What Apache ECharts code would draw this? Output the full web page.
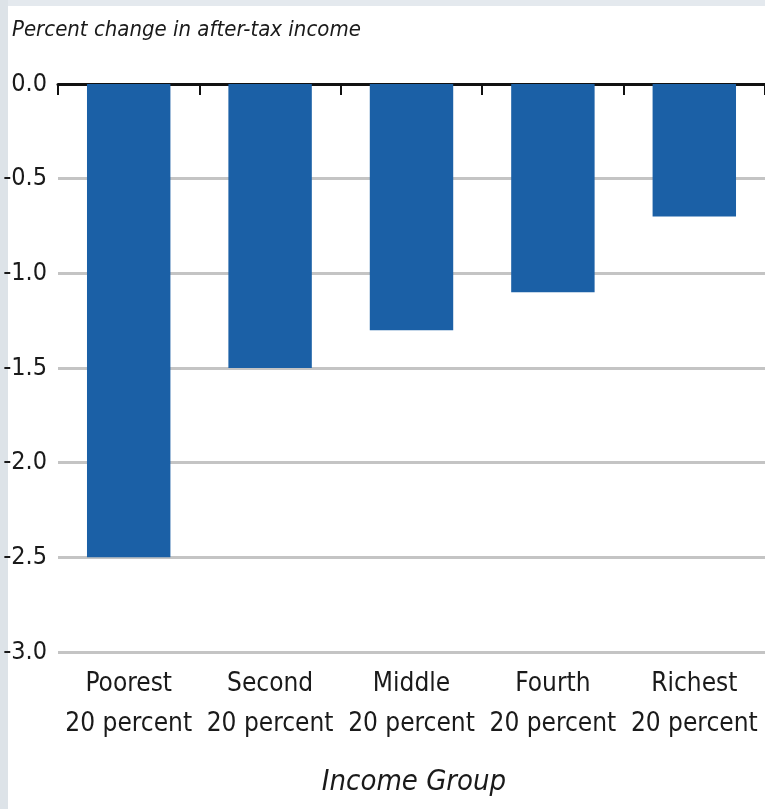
<!DOCTYPE html>
<html>
<head>
<meta charset="utf-8">
<script src="https://cdn.jsdelivr.net/npm/echarts@6/dist/echarts.min.js"></script>
<style>
  html, body { margin: 0; padding: 0; background: #ffffff; }
  #chart { width: 765px; height: 809px; }
</style>
</head>
<body>
<div id="chart"></div>
<script>
// Income quintiles and the percent change in after-tax income for each
const categories = ['Poorest\n20 percent', 'Second\n20 percent', 'Middle\n20 percent', 'Fourth\n20 percent', 'Richest\n20 percent'];
const changeValues = [-2.5, -1.5, -1.3, -1.1, -0.7];
const yTicks = [0, -0.5, -1.0, -1.5, -2.0, -2.5, -3.0];

const FONT = '"DejaVu Sans Condensed", "Liberation Sans Narrow", "Liberation Sans", sans-serif';
const chart = echarts.init(document.getElementById('chart'), null, { renderer: 'canvas' });

chart.setOption({
  backgroundColor: '#ffffff',
  animation: false,
  graphic: [
    { type: 'rect', left: 0, top: 0, shape: { width: 765, height: 6 }, style: { fill: '#e4e9ee' }, silent: true },
    { type: 'rect', left: 0, top: 0, shape: { width: 8, height: 809 }, style: { fill: '#dde3e8' }, silent: true },
    {
      type: 'text', left: 12, top: 19,
      style: { text: 'Percent change in after-tax income', font: 'italic 22px ' + FONT, fill: '#1a1a1a' }
    },
    {
      type: 'text', x: 414, y: 768,
      style: { text: 'Income Group', font: 'italic 29px ' + FONT, fill: '#1a1a1a', align: 'center' }
    }
  ],
  grid: { left: 58, width: 715, top: 84, bottom: 157, containLabel: false },
  xAxis: [
    {
      type: 'category',
      data: categories,
      position: 'bottom',
      axisLine: { show: false },
      axisTick: { show: false },
      axisLabel: {
        interval: 0, margin: 12,
        fontFamily: FONT, fontSize: 26, lineHeight: 40, color: '#1a1a1a'
      }
    },
    {
      type: 'category',
      data: categories,
      position: 'top',
      axisLine: { show: true, onZero: false, lineStyle: { color: '#111111', width: 3 } },
      axisTick: { show: true, inside: true, length: 11, lineStyle: { color: '#111111', width: 2 } },
      axisLabel: { show: false }
    }
  ],
  yAxis: {
    type: 'value',
    min: -3, max: 0, interval: 0.5,
    axisLine: { show: false },
    axisTick: { show: false },
    splitLine: { show: true, lineStyle: { color: '#c4c4c4', width: 3 } },
    axisLabel: {
      margin: 11,
      fontFamily: FONT, fontSize: 25, color: '#1a1a1a',
      formatter: v => v.toFixed(1)
    }
  },
  series: [{
    type: 'bar',
    data: changeValues,
    xAxisIndex: 0,
    barWidth: '59%',
    itemStyle: { color: '#1b60a6' }
  }]
});
</script>
</body>
</html>
